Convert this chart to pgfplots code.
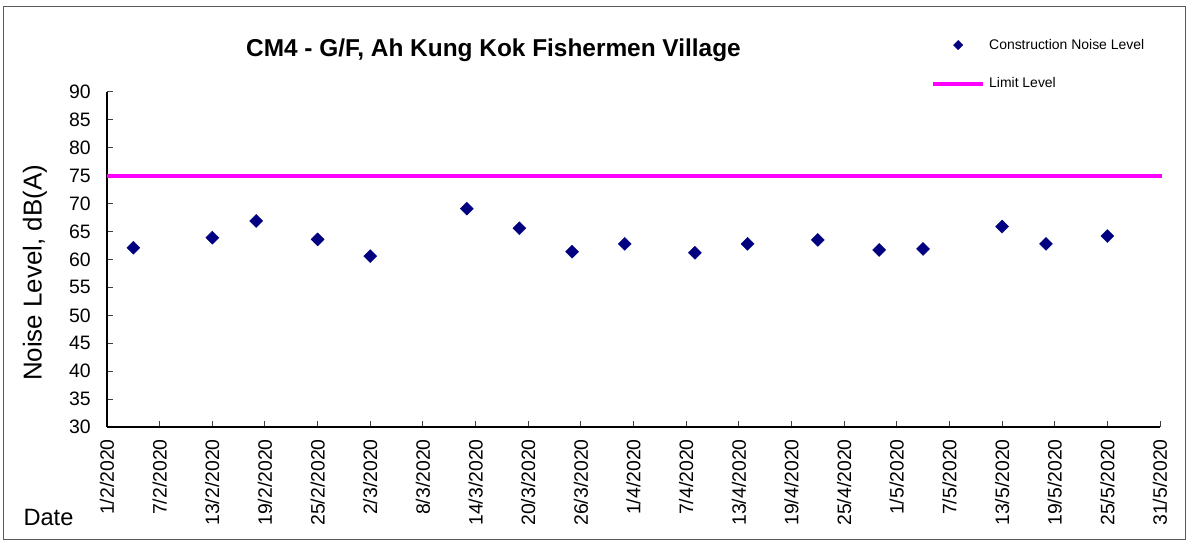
\documentclass[border=0pt]{standalone}
\usepackage{pgfplots}
\pgfplotsset{compat=1.18}
\usepackage{fontspec}
\setmainfont{Liberation Sans}
\definecolor{navyblue}{RGB}{0,0,128}
\definecolor{limitmag}{RGB}{255,0,255}
\definecolor{axgray}{RGB}{64,64,64}
\pgfplotsset{
  legmark/.style={legend image code/.code={\path (0bp,0bp) (50bp,0bp); \draw[##1, mark size=3.3bp] plot coordinates {(25bp,0bp)};}},
  legline/.style={legend image code/.code={\draw[##1] (0bp,0bp) -- (50bp,0bp);}},
}

\begin{document}
\begin{tikzpicture}[x=1bp,y=1bp]
\path (0,0) rectangle (1189,544);
\draw[line width=1bp, black!65] (3,4) rectangle (1185,537);
\begin{axis}[
  at={(107bp,117bp)}, anchor=south west,
  scale only axis, width=1053bp, height=335bp,
  xmin=0, xmax=120, ymin=30, ymax=90,
  axis lines=left, axis line style={-, line width=1.2bp, black},
  tick align=inside, major tick length=6bp,
  tick style={line width=1bp, axgray},
  xtick={0,6,...,120},
  xticklabels={1/2/2020,7/2/2020,13/2/2020,19/2/2020,25/2/2020,2/3/2020,8/3/2020,14/3/2020,20/3/2020,26/3/2020,1/4/2020,7/4/2020,13/4/2020,19/4/2020,25/4/2020,1/5/2020,7/5/2020,13/5/2020,19/5/2020,25/5/2020,31/5/2020},
  xticklabel style={rotate=90, anchor=east, inner sep=0pt, font=\fontsize{19.5}{20}\selectfont},
  xticklabel shift=12bp,
  ytick={30,35,...,90},
  yticklabel style={anchor=east, inner sep=0pt, font=\fontsize{19.5}{20}\selectfont},
  yticklabel shift=16bp,
  /pgf/number format/assume math mode=true,
  ylabel={Noise Level, dB(A)},
  ylabel style={at={(axis description cs:-0.062,0.46)}, anchor=base, font=\fontsize{26}{28}\selectfont},
  xlabel={Date},
  xlabel style={at={(axis description cs:-0.0826,-0.2955)}, anchor=base west, font=\fontsize{23.7}{26}\selectfont},
  title={\bfseries CM4 - G/F, Ah Kung Kok Fishermen Village},
  title style={at={(axis description cs:0.367,1.087)}, anchor=base, font=\fontsize{24.5}{26}\selectfont},
  legend style={draw=none, fill=none, at={(axis description cs:0.7825,1.158)}, anchor=north west,
    font=\fontsize{14}{16}\selectfont, row sep=27bp, column sep=4bp, inner sep=0pt,
    nodes={inner sep=0pt}},
  legend cell align=left,
  clip=false,
]
\addplot[only marks, mark=square*, mark size=4.6bp,
  mark options={rotate=45, fill=navyblue, draw=navyblue}, legmark]
  coordinates {
  (3,62.1) (12,63.9) (17,66.9) (24,63.6) (30,60.6) (41,69.1) (47,65.6)
  (53,61.4) (59,62.8) (67,61.2) (73,62.8) (81,63.5) (88,61.7) (93,61.9)
  (102,65.9) (107,62.8) (114,64.2)
  };
\addlegendentry{Construction Noise Level}
\addplot[limitmag, line width=4bp, legline]
  coordinates {(0,75) (120.2,75)};
\addlegendentry{Limit Level}
\end{axis}
\end{tikzpicture}
\end{document}
